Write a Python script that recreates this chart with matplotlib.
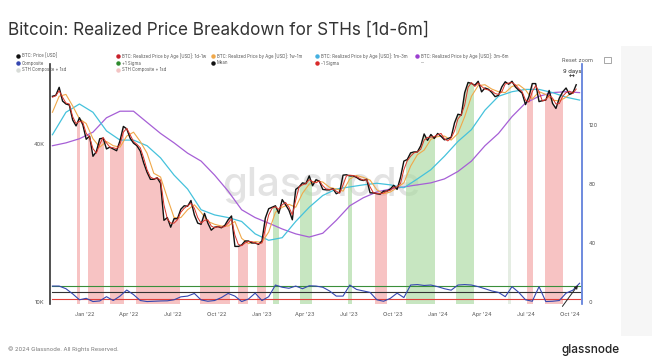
import numpy as np
import pandas as pd
import matplotlib
matplotlib.use("Agg")
import matplotlib.pyplot as plt
from matplotlib.lines import Line2D
from matplotlib.patches import Rectangle

# ---------------- data ----------------
weekly_start = "2021-10-25"
btc_price_k = [
    61.0, 61.5, 66.0, 58.5, 57.0, 56.5, 49.5, 47.0, 50.5, 47.5,
    41.8, 43.0, 36.0, 37.5, 42.0, 42.2, 38.4, 39.0, 38.4, 37.8, 41.3, 46.8, 45.8,
    42.2, 40.4, 39.5, 37.7, 34.0, 31.3, 29.4, 29.4, 29.8, 28.4, 20.5, 21.0, 19.3,
    20.8, 20.8, 22.6, 23.3, 23.2, 24.4, 21.5, 20.0, 19.8, 21.8, 20.0, 18.8, 19.3,
    19.4, 19.2, 19.6, 20.6, 21.3, 16.3, 16.3, 16.5, 17.1, 17.1, 16.8, 16.8, 16.6,
    17.1, 20.9, 22.7, 23.0, 23.3, 21.8, 24.6, 23.5, 22.4, 20.6, 26.9, 27.5, 28.5,
    28.3, 30.3, 27.8, 29.3, 28.9, 26.9, 26.8, 26.8, 27.1, 25.9, 26.3, 30.5, 30.6,
    30.3, 30.3, 29.9, 29.3, 29.1, 29.4, 26.1, 26.1, 25.9, 25.8, 26.5, 26.5, 27.0,
    27.9, 26.9, 29.9, 34.5, 35.0, 37.1, 37.4, 37.4, 39.5, 43.8, 41.4, 43.6, 42.1,
    44.0, 42.9, 41.6, 42.0, 42.6, 48.3, 52.1, 51.7, 63.0, 68.9, 68.3, 67.2, 69.6,
    63.4, 65.6, 64.9, 63.1, 60.8, 61.5, 66.3, 69.3, 67.8, 69.6, 66.2, 64.3, 62.7,
    56.7, 60.8, 68.2, 68.2, 58.2, 58.7, 59.0, 64.2, 57.3, 54.8, 60.0, 63.4, 65.6,
    62.0, 62.8, 67.5,
]
rp_1d_1w_k = [
    60.5, 61.3, 64.0, 60.5, 57.5, 57.0, 51.0, 48.0, 49.0, 48.5,
    44.0, 42.5, 38.5, 37.0, 40.0, 42.5, 40.5, 39.0, 38.8, 38.5, 40.0, 44.5, 46.0,
    43.5, 41.0, 40.0, 38.8, 35.5, 32.0, 30.0, 29.5, 29.8, 29.2, 23.5, 20.8, 20.0,
    20.0, 20.6, 22.0, 22.8, 23.3, 23.8, 22.8, 21.0, 20.0, 20.5, 20.6, 19.5, 19.2,
    19.4, 19.3, 19.4, 20.0, 20.8, 18.0, 16.6, 16.4, 16.8, 17.0, 17.0, 16.8, 16.7,
    16.8, 19.0, 21.5, 22.8, 23.1, 22.6, 23.5, 24.0, 23.0, 21.5, 24.5, 27.5, 28.0,
    28.3, 29.3, 28.8, 28.5, 29.0, 27.8, 27.0, 26.9, 27.0, 26.5, 26.0, 28.0, 30.3,
    30.5, 30.4, 30.1, 29.6, 29.2, 29.3, 27.5, 26.1, 26.0, 25.9, 26.1, 26.5, 26.7,
    27.4, 27.5, 28.3, 32.0, 34.6, 36.0, 37.1, 37.4, 38.3, 41.5, 42.5, 42.6, 42.8,
    43.5, 44.0, 42.0, 41.2, 42.3, 45.0, 50.0, 51.9, 56.5, 66.0, 68.8, 66.5, 68.5,
    66.5, 65.0, 64.5, 64.0, 62.5, 62.0, 63.5, 68.0, 68.5, 68.8, 67.5, 65.3, 63.5,
    59.0, 58.0, 63.5, 67.0, 63.5, 58.5, 59.2, 61.5, 60.0, 57.0, 57.2, 61.0, 63.0,
    63.8, 62.5, 65.0,
]
rp_1w_1m_k = [  # every 2 weeks
    53.0, 61.0, 62.0, 56.0, 50.0,
    48.0, 42.0, 39.0, 41.0, 39.5, 39.0, 43.0, 44.5, 41.0, 37.0, 31.0, 30.0, 25.0,
    21.0, 21.0, 22.5, 23.5, 22.0, 20.3, 19.8, 19.5, 19.5, 20.3, 17.5, 16.7, 17.0,
    16.9, 18.5, 22.0, 23.0, 23.6, 23.0, 26.0, 28.2, 29.0, 28.7, 27.4, 27.0, 26.5,
    29.5, 30.4, 29.9, 29.2, 26.8, 25.9, 26.3, 27.3, 28.5, 33.0, 36.5, 38.0, 41.8,
    42.8, 43.0, 41.5, 44.0, 51.0, 61.0, 67.0, 67.5, 65.0, 63.5, 63.0, 66.5, 67.5,
    64.5, 59.5, 63.5, 62.0, 59.0, 58.5, 60.5, 63.5,
]
rp_1m_3m_k = [  # every 4 weeks
    43.5, 53.0, 57.0, 53.0, 45.0, 41.5, 41.5, 39.5, 35.5, 30.5, 27.0, 22.5, 21.5,
    21.0, 20.3, 18.2, 17.2, 17.6, 20.3, 23.0, 25.5, 27.0, 27.5, 28.0, 28.4, 28.0,
    27.3, 29.5, 32.0, 36.0, 41.0, 45.5, 54.0, 61.0, 63.5, 64.8, 64.8, 63.0, 60.5,
    59.0,
]
rp_3m_6m_k = [  # every 4 weeks
    39.5, 40.5, 42.0, 44.5, 50.5, 53.5, 53.5, 48.5, 44.0, 40.5, 37.0, 34.5, 30.5,
    26.5, 22.5, 21.0, 20.0, 19.0, 18.2, 17.7, 18.3, 20.5, 23.3, 25.0, 26.3, 27.0,
    27.5, 28.0, 28.5, 29.5, 31.5, 34.5, 39.5, 44.0, 51.0, 57.5, 61.0, 63.0, 63.5,
    63.0,
]
composite = [  # every 2 weeks, right axis
    10.8, 10.8, 9.0, 5.5, 1.5, 2.5, 0.3, 0.7, 3.6, 1.0, 4.0, 8.1, 5.0, 1.0, 0.3,
    0.5, 0.7, 0.8, 1.5, 3.5, 4.0, 5.8, 1.4, 0.5, 1.0, 3.0, 5.8, 4.0, 0.3, 2.0,
    6.0, 1.0, 3.6, 11.5, 10.0, 9.3, 10.8, 9.0, 11.0, 10.8, 10.0, 7.5, 4.0, 4.0,
    11.5, 8.5, 7.5, 6.5, 1.5, 0.5, 2.5, 6.0, 3.0, 11.5, 11.8, 11.2, 11.5, 10.4,
    9.0, 8.0, 11.5, 11.8, 11.5, 10.4, 9.0, 7.5, 6.5, 3.6, 10.4, 6.5, 1.5, 0.5,
    10.4, 0.3, 0.5, 1.0, 6.0, 8.0, 12.7,
]
plus_sigma, mean_level, minus_sigma = 10.8, 6.6, 2.2

red_periods = [
    ("2021-12-15", "2021-12-21"), ("2022-01-07", "2022-02-09"),
    ("2022-02-22", "2022-03-23"), ("2022-04-17", "2022-07-17"),
    ("2022-08-27", "2022-10-28"), ("2022-11-14", "2022-12-04"),
    ("2022-12-23", "2023-01-11"), ("2023-08-24", "2023-09-18"),
    ("2024-07-05", "2024-07-17"), ("2024-08-10", "2024-09-17"),
]
green_periods = [
    ("2023-01-25", "2023-02-07"), ("2023-03-22", "2023-04-16"),
    ("2023-06-30", "2023-07-08"), ("2023-10-28", "2023-12-27"),
    ("2024-02-09", "2024-03-17"),
]
faint_periods = [("2024-05-26", "2024-06-01")]

x_tick_dates = ["2022-01-01", "2022-04-01", "2022-07-01", "2022-10-01",
                "2023-01-01", "2023-04-01", "2023-07-01", "2023-10-01",
                "2024-01-01", "2024-04-01", "2024-07-01", "2024-10-01"]
x_tick_labels = ["Jan '22", "Apr '22", "Jul '22", "Oct '22", "Jan '23", "Apr '23",
                 "Jul '23", "Oct '23", "Jan '24", "Apr '24", "Jul '24", "Oct '24"]
left_ticks = [10000, 40000]
left_tick_labels = ["10K", "40K"]
right_ticks = [0, 40, 80, 120]

x_range = ("2021-10-20", "2024-10-26")
left_range = (9826, 79600)
right_range = (-1.36, 160)
annot_start = ("2024-09-12", -4.5)
annot_end = ("2024-10-21", 12.9)

# ---------------- figure ----------------
W, H = 652, 359
fig = plt.figure(figsize=(W / 100, H / 100), dpi=100)
fig.patch.set_facecolor("white")


def fx(x):
    return x / W


def fy(y):
    return 1 - y / H


FONT = "Inter"

# light page strip on the right
fig.add_artist(Rectangle((fx(621), fy(336)), fx(31), (336 - 46) / H,
                         transform=fig.transFigure, facecolor="#f6f6f6",
                         edgecolor="none", zorder=0))

ax = fig.add_axes([fx(50), 1 - 304 / H, (582 - 50) / W, (304 - 64) / H])
ax2 = ax.twinx()
ax.set_zorder(1)
ax2.set_zorder(2)
ax.patch.set_visible(False)
ax2.patch.set_visible(False)

d_week = pd.date_range(weekly_start, periods=len(btc_price_k), freq="7D")
d_week_red = pd.date_range(weekly_start, periods=len(rp_1d_1w_k), freq="7D")
d_2w = pd.date_range(weekly_start, periods=len(rp_1w_1m_k), freq="14D")
d_4w_a = pd.date_range(weekly_start, periods=len(rp_1m_3m_k), freq="28D")
d_4w_b = pd.date_range(weekly_start, periods=len(rp_3m_6m_k), freq="28D")
d_comp = pd.date_range(weekly_start, periods=len(composite), freq="14D")

price = np.array(btc_price_k) * 1000

ax.set_yscale("log")
# keep pixel mapping: axes top moved up by 2px -> extend limits accordingly
top_val = left_range[1] * 10 ** (2 / 262)
ax.set_ylim(left_range[0], top_val)
ax.set_xlim(pd.Timestamp(x_range[0]), pd.Timestamp(x_range[1]))
ax2.set_ylim(right_range[0], right_range[1] + 2 / 59 * 40)

# clip region: area under the price line
under = ax.fill_between(d_week, left_range[0], price, color="none", lw=0)
clip_path = under.get_paths()[0]


def bands(periods, color, alpha):
    for s, e in periods:
        sp = ax.axvspan(pd.Timestamp(s), pd.Timestamp(e), color=color,
                        alpha=alpha, lw=0, zorder=1)
        sp.set_clip_path(clip_path, ax.transData)


bands(red_periods, "#f4a3a3", 0.65)
bands(green_periods, "#a9d9a0", 0.65)
bands(faint_periods, "#dfe9dc", 0.8)

# watermark
ax.text(fx(222), fy(186), "glassnode", transform=fig.transFigure, fontsize=29,
        color="#d4d4d4", alpha=0.65, ha="left", va="center", family=FONT,
        fontweight="medium", zorder=0.5)

# realized price lines
ax.plot(d_4w_b, np.array(rp_3m_6m_k) * 1000, color="#a65fd6", lw=0.9, zorder=3)
ax.plot(d_4w_a, np.array(rp_1m_3m_k) * 1000, color="#45c2dc", lw=0.9, zorder=3)
ax.plot(d_2w, np.array(rp_1w_1m_k) * 1000, color="#f0a84a", lw=0.8, zorder=3)
ax.plot(d_week, price, color="#111111", lw=1.0, zorder=4)
ax.plot(d_week_red, np.array(rp_1d_1w_k) * 1000, color="#d9342b", lw=0.7,
        zorder=5)

# composite oscillator
ax2.plot([d_comp[0], d_comp[-1]], [plus_sigma] * 2, color="#3a8f3a", lw=0.8)
ax2.plot([d_comp[0], d_comp[-1]], [mean_level] * 2, color="#333333", lw=0.8)
ax2.plot([d_comp[0], d_comp[-1]], [minus_sigma] * 2, color="#e0403a", lw=0.8)
ax2.plot(d_comp, composite, color="#3547b0", lw=0.8)

ax2.annotate("", xy=(pd.Timestamp(annot_end[0]), annot_end[1]),
             xytext=(pd.Timestamp(annot_start[0]), annot_start[1]),
             arrowprops=dict(arrowstyle="-|>", color="#222222", lw=0.7,
                             mutation_scale=5),
             annotation_clip=False)

# axes styling
for s in ["top", "bottom", "right"]:
    ax.spines[s].set_visible(False)
for s in ["top", "bottom", "left"]:
    ax2.spines[s].set_visible(False)
ax.spines["left"].set_color("#333333")
ax.spines["left"].set_linewidth(1.2)
ax2.spines["right"].set_color("#5577d8")
ax2.spines["right"].set_linewidth(1.2)

ax.set_yticks(left_ticks)
ax.set_yticklabels(left_tick_labels)
ax.yaxis.set_minor_locator(matplotlib.ticker.NullLocator())
ax.tick_params(axis="y", length=0, pad=4, labelsize=4, labelcolor="#555555")
ax2.set_yticks(right_ticks)
ax2.tick_params(axis="y", length=0, pad=5, labelsize=4, labelcolor="#555555")
ax.set_xticks([pd.Timestamp(d) for d in x_tick_dates])
ax.set_xticklabels(x_tick_labels)
ax.tick_params(axis="x", length=0, pad=6, labelsize=4, labelcolor="#555555")
for lab in ax.get_xticklabels() + ax.get_yticklabels() + ax2.get_yticklabels():
    lab.set_family(FONT)

# title
fig.text(fx(8), fy(30), "Bitcoin: Realized Price Breakdown for STHs [1d-6m]",
         fontsize=12.3, color="#333333", ha="left", va="center", family=FONT)

# legend
legend_rows = [
    [("BTC: Price [USD]", "#111111", True),
     ("BTC: Realized Price by Age [USD]: 1d-1w", "#c8202a", True),
     ("BTC: Realized Price by Age [USD]: 1w-1m", "#f0a84a", True),
     ("BTC: Realized Price by Age [USD]: 1m-3m", "#45b0e0", True),
     ("BTC: Realized Price by Age [USD]: 3m-6m", "#9b3fd0", True)],
    [("Composite", "#3547b0", True), ("+1 Sigma", "#2e8b2e", True),
     ("Mean", "#111111", True), ("-1 Sigma", "#d92a2a", True),
     ("--", None, False)],
    [("STH Composite + 1sd", "#d8dcd8", True),
     ("STH Composite + 1sd", "#f3c4c4", True)],
]
col_x = [18, 118, 213, 317, 417]
row_y = [56, 63, 70]
for r, row in enumerate(legend_rows):
    for c, (txt, col, mk) in enumerate(row):
        if mk:
            fig.add_artist(Line2D([fx(col_x[c])], [fy(row_y[r])], marker="o",
                                  ms=2.2, color=col, mec=col, lw=0,
                                  transform=fig.transFigure))
        fig.text(fx(col_x[c] + 4), fy(row_y[r]), txt, fontsize=3.1,
                 color="#555555", ha="left", va="center", family=FONT)

# chart controls
fig.text(fx(577), fy(60), "Reset zoom", fontsize=4, color="#555555",
         ha="center", va="center", family=FONT)
fig.add_artist(Rectangle((fx(604), fy(63)), fx(7), 6 / H,
                         transform=fig.transFigure, facecolor="none",
                         edgecolor="#999999", lw=0.6))
fig.text(fx(572), fy(71), "9 days", fontsize=4.2, color="#222222",
         ha="center", va="center", family=FONT)
fig.text(fx(572), fy(77), "↔", fontsize=5, color="#222222",
         ha="center", va="center", family="DejaVu Sans")

# footer
fig.text(fx(8), fy(349), "© 2024 Glassnode. All Rights Reserved.", fontsize=4.2,
         color="#777777", ha="left", va="center", family=FONT)
fig.text(fx(620), fy(350), "glassnode", fontsize=8.5, color="#222222",
         ha="right", va="center", family=FONT, fontweight="medium")

fig.savefig("out.png", dpi=100)
